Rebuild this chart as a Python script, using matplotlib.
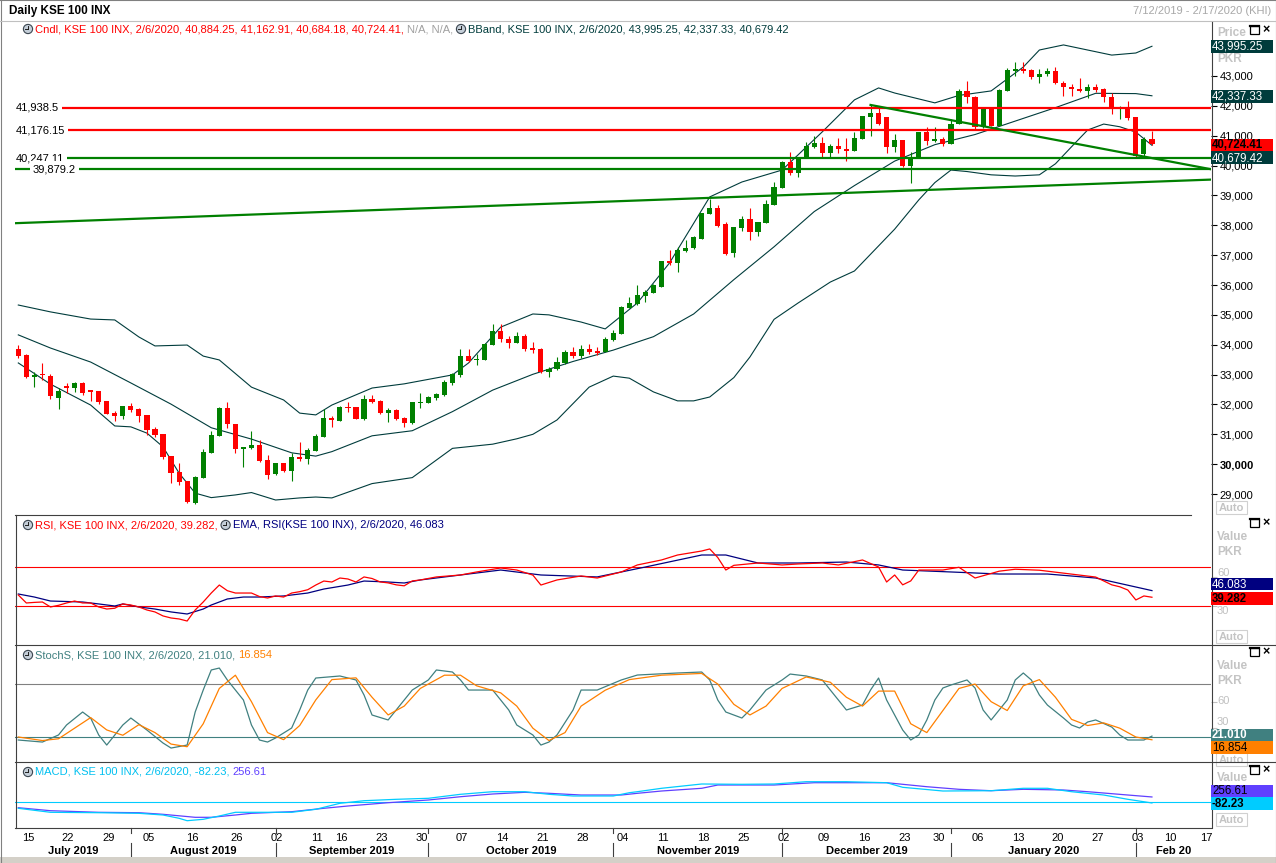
import numpy as np
import matplotlib
matplotlib.use('Agg')
import matplotlib.pyplot as plt
from matplotlib import transforms
from matplotlib.lines import Line2D
from matplotlib.patches import Rectangle, Circle

plt.rcParams['font.family'] = ['Liberation Sans', 'DejaVu Sans']

W, H = 1276, 863
X0, DX = 18.3, 8.04  # pixel centre of the first candle, candle spacing

GREEN = '#008000'
RED = '#FF0000'
BBCOL = '#003C3C'

# ---------------- data ----------------
opens = [33850, 33660, 32910, 33020, 32950, 32230, 32620, 32560, 32730, 32480,
         32450, 32120, 31720, 31610, 31950, 31860, 31650, 31180, 31010, 30270,
         29740, 29440, 28710, 29550, 30380, 30950, 31890, 31330, 30500, 30550,
         30640, 30140, 29660, 30030, 29780, 30250, 30180, 30450, 30920, 31560,
         31460, 31920, 31920, 31520, 32170, 32130, 31720, 31810, 31560, 31370,
         32040, 32060, 32210, 32320, 32710, 32990, 33620, 33490, 33490, 34000,
         34460, 34190, 34070, 34290, 33890, 33870, 33080, 33180, 33380, 33760,
         33630, 33860, 33800, 33750, 34160, 34360, 35240, 35350, 35640, 35740,
         35940, 36800, 36750, 37140, 37230, 37550, 38380, 38580, 38040, 37060,
         37920, 38210, 37790, 38090, 38690, 39260, 40120, 39760, 40260, 40630,
         40750, 40430, 40670, 40560, 40500, 40890, 41640, 41770, 41620, 40630,
         40860, 39990, 40280, 41110, 40830, 40890, 40720, 41390, 42510, 42310,
         41280, 41950, 41330, 42510, 43180, 43230, 43200, 42980, 43060, 43170,
         42780, 42620, 42560, 42510, 42620, 42550, 42310, 41880, 41920, 41620,
         40390, 40884.25]
highs = [33990, 33680, 33080, 33400, 33020, 32540, 32730, 32760, 32750, 32500,
         32460, 32130, 31780, 31960, 32060, 31870, 31660, 31240, 31020, 30280,
         30030, 29450, 29610, 30510, 31110, 31900, 32090, 31340, 30590, 31110,
         30810, 30310, 30040, 30040, 30360, 30750, 30540, 31000, 31840, 31610,
         31950, 32090, 31930, 32310, 32310, 32150, 31890, 31840, 31590, 32080,
         32370, 32270, 32370, 32820, 33040, 33860, 33860, 33690, 34050, 34690,
         34690, 34290, 34440, 34360, 34090, 33880, 33250, 33600, 33820, 33930,
         33990, 34020, 33930, 34270, 34490, 35300, 35590, 36000, 35830, 36020,
         36820, 37170, 37280, 37510, 37640, 38420, 38890, 38680, 38110, 37950,
         38310, 38580, 38120, 38850, 39440, 40140, 40450, 40300, 40800, 40990,
         40950, 40720, 40910, 40910, 41130, 41670, 42030, 41920, 41630, 41060,
         40870, 40460, 41120, 41280, 41280, 40950, 41550, 42550, 42830, 42320,
         41960, 41960, 42550, 43260, 43460, 43480, 43230, 43230, 43260, 43310,
         42840, 42730, 42920, 42730, 42730, 42590, 42440, 42000, 42170, 41630,
         40950, 41162.91]
lows = [33570, 32880, 32590, 32820, 32190, 31860, 32370, 32430, 32320, 32120,
        32000, 31670, 31460, 31520, 31740, 31420, 30980, 30920, 30170, 29380,
        29300, 28690, 28660, 29540, 30370, 30940, 31220, 30380, 29920, 30500,
        30080, 29510, 29650, 29730, 29450, 30120, 30000, 30440, 30910, 31260,
        31450, 31760, 31500, 31480, 32040, 31680, 31410, 31480, 31260, 31340,
        31890, 32050, 32150, 32290, 32650, 32930, 33420, 33310, 33480, 33990,
        34100, 33890, 34060, 33800, 33730, 33070, 32930, 33150, 33370, 33570,
        33570, 33700, 33650, 33740, 34130, 34350, 35220, 35330, 35440, 35730,
        35930, 36670, 36450, 37120, 37220, 37540, 38370, 37950, 37000, 36950,
        37810, 37510, 37640, 38080, 38680, 39250, 39680, 39630, 40250, 40580,
        40300, 40300, 40430, 40160, 40490, 40880, 40990, 41360, 40410, 40460,
        39940, 39430, 40270, 40690, 40800, 40660, 40710, 41380, 42090, 41230,
        41270, 41320, 41320, 42500, 43010, 43090, 42890, 42780, 43010, 42730,
        42340, 42340, 42450, 42250, 42450, 42120, 41730, 41550, 41530, 40240,
        40320, 40684.18]
closes = [33630, 32910, 32980, 32980, 32280, 32450, 32560, 32730, 32370, 32430,
          32090, 31680, 31620, 31950, 31810, 31610, 31140, 30980, 30250, 29710,
          29400, 28730, 29580, 30400, 30980, 31890, 31330, 30500, 30590, 30640,
          30110, 29640, 30030, 29770, 30240, 30180, 30470, 30940, 31560, 31480,
          31920, 31890, 31510, 32190, 32070, 31700, 31810, 31510, 31390, 32070,
          32090, 32260, 32350, 32750, 33010, 33620, 33450, 33530, 34020, 34460,
          34180, 34070, 34290, 33860, 33820, 33080, 33190, 33430, 33770, 33620,
          33860, 33750, 33730, 34190, 34400, 35270, 35390, 35680, 35770, 36000,
          36800, 36730, 37170, 37230, 37600, 38400, 38580, 37990, 37040, 37940,
          38210, 37790, 38110, 38710, 39270, 40120, 39740, 40280, 40670, 40750,
          40430, 40670, 40560, 40500, 40910, 41660, 41770, 41390, 40630, 40860,
          39990, 40300, 41110, 40830, 40890, 40720, 41390, 42510, 42310, 41280,
          41950, 41330, 42530, 43200, 43230, 43180, 42980, 43070, 43170, 42760,
          42620, 42550, 42510, 42620, 42530, 42290, 41880, 41940, 41580, 40320,
          40890, 40724.41]

bb_up_idx = [0, 4, 9, 12, 15, 17, 21, 23, 25, 29, 33, 35, 37, 39, 44, 48, 54, 56, 58, 60,
             64, 66, 70, 73, 77, 81, 86, 90, 95, 100, 104, 107, 109, 114, 117, 121, 125,
             127, 130, 133, 136, 139, 141]
bb_up = [35330, 35100, 34860, 34830, 34260, 33960, 33990, 33620, 33490, 32580, 32150,
         31710, 31650, 31980, 32550, 32690, 32990, 33390, 33990, 34590, 35030, 35000,
         34760, 34530, 35400, 36740, 38950, 39450, 39850, 41130, 42200, 42600, 42430,
         42100, 42350, 42500, 43300, 43870, 44040, 43870, 43700, 43770, 43995.25]
bb_mid_idx = [0, 4, 9, 14, 19, 24, 29, 34, 37, 39, 44, 49, 54, 59, 64, 69, 74, 79, 84,
              89, 94, 99, 104, 109, 114, 119, 124, 129, 134, 139, 141]
bb_mid = [34330, 33890, 33420, 32720, 32010, 31220, 30840, 30380, 30270, 30420, 30950,
          31120, 31760, 32480, 33010, 33440, 33820, 34270, 35030, 36180, 37280, 38460,
          39330, 40150, 40700, 41040, 41490, 41940, 42420, 42410, 42337.33]
bb_lo_idx = [0, 4, 9, 12, 14, 16, 18, 20, 22, 24, 27, 29, 32, 35, 37, 39, 44, 49, 54, 59,
             62, 64, 67, 71, 74, 76, 79, 82, 84, 86, 89, 91, 94, 97, 101, 104, 109, 112,
             114, 116, 118, 121, 124, 127, 129, 131, 133, 135, 137, 139, 141]
bb_lo = [33390, 32680, 31980, 31280, 31250, 31040, 30580, 29700, 29030, 28880, 28970,
         29050, 28800, 28870, 28900, 28870, 29350, 29550, 30530, 30670, 30850, 31000,
         31480, 32580, 32950, 32880, 32420, 32120, 32120, 32250, 32900, 33590, 34850,
         35400, 36100, 36470, 37870, 38850, 39430, 39850, 39800, 39690, 39650, 39690,
         40060, 40630, 41190, 41390, 41300, 41120, 40679.42]

levels_red = [41938.5, 41176.15]
levels_green = [40247.11, 39879.2]
level_labels = ['41,938.5', '41,176.15', '40,247.11', '39,879.2']
rise_idx, rise_val = [-0.41, 148.3], [38070, 39530]
fall_idx, fall_val = [106, 148.3], [42030, 39880]

rsi_idx = [0, 1, 2, 3, 4, 5, 6, 7, 8, 9, 10, 11, 12, 13, 14, 15, 16, 17, 18, 19, 20, 21,
           22, 23, 24, 25, 26, 27, 28, 29, 30, 31, 32, 33, 34, 35, 36, 37, 38, 39, 40, 41,
           42, 43, 44, 45, 46, 47, 48, 49, 50, 52, 55, 57, 60, 62, 64, 65, 67, 70, 72, 75,
           77, 80, 82, 85, 86, 87, 88, 89, 92, 95, 97, 100, 102, 105, 107, 108, 109, 110,
           111, 112, 115, 117, 119, 122, 124, 127, 129, 132, 134, 136, 137, 138, 139, 140,
           141]
rsi = [41.6, 33.4, 34.0, 34.4, 29.3, 31.0, 33.4, 35.4, 33.4, 33.4, 29.3, 27.2, 28.0, 32.4,
       31.3, 29.3, 26.2, 24.2, 20.1, 18.0, 17.0, 14.9, 26.2, 34.4, 43.6, 51.8, 46.0, 43.6,
       43.6, 43.6, 40.0, 38.5, 40.6, 39.5, 43.6, 45.0, 47.0, 51.8, 55.9, 54.9, 59.0, 58.0,
       54.9, 60.1, 58.5, 55.0, 54.0, 52.0, 51.0, 56.0, 57.0, 60.1, 62.1, 65.2, 69.3, 67.2,
       62.0, 51.8, 57.0, 61.1, 59.0, 65.2, 72.4, 77.5, 82.6, 86.7, 88.8, 80.0, 67.2, 72.0,
       74.4, 72.4, 73.4, 74.4, 72.4, 77.5, 70.3, 54.9, 62.1, 52.0, 56.0, 67.2, 67.2, 70.0,
       59.0, 66.0, 68.0, 67.0, 65.0, 62.0, 60.0, 52.0, 50.0, 46.7, 36.5, 40.6, 39.282]
ema_idx = [0, 2, 4, 8, 10, 12, 13, 15, 17, 19, 21, 23, 24, 26, 28, 30, 33, 36, 38, 41, 43,
           46, 48, 50, 60, 65, 72, 78, 85, 88, 92, 97, 103, 107, 110, 116, 122, 128, 134,
           141]
ema = [42.6, 39.5, 35.4, 34.4, 32.4, 30.3, 32.4, 29.3, 27.2, 24.2, 22.1, 27.2, 31.3, 37.5,
       39.5, 39.5, 40.6, 43.6, 47.7, 51.8, 55.9, 54.9, 53.9, 57.0, 67.2, 62.1, 60.1, 70.3,
       82.6, 82.6, 74.4, 74.4, 75.4, 72.4, 67.2, 65.2, 63.1, 63.1, 59.0, 46.083]

stk_idx = [0, 3, 5, 6, 8, 9, 10, 11, 13, 14, 16, 18, 19, 21, 22, 23, 24, 25, 26, 28, 29,
           30, 31, 32, 34, 35, 36, 37, 40, 42, 43, 44, 46, 47, 49, 51, 52, 54, 55, 56, 59,
           60, 61, 62, 64, 65, 66, 67, 69, 70, 72, 75, 77, 82, 85, 86, 87, 88, 90, 91, 92,
           93, 95, 96, 98, 100, 101, 102, 103, 105, 106, 107, 108, 110, 111, 112, 113, 114,
           115, 116, 118, 119, 120, 121, 123, 124, 125, 126, 127, 128, 130, 131, 132, 133,
           134, 136, 137, 138, 140, 141]
stk = [16.6, 14.3, 22.3, 33.6, 48.3, 41.5, 22.3, 10.9, 33.6, 41.5, 27.9, 13.2, 7.5, 10.9,
       48.3, 73.2, 95.9, 98.1, 84.6, 61.9, 33.6, 16.6, 14.3, 18.9, 30.2, 50.6, 73.2, 86.8,
       89.1, 84.6, 67.6, 44.9, 39.3, 50.6, 73.2, 84.6, 95.9, 93.6, 84.6, 73.2, 73.2, 61.9,
       50.6, 33.6, 22.3, 10.9, 14.3, 22.3, 50.6, 73.2, 73.2, 84.6, 90.2, 92.5, 93.6, 84.6,
       61.9, 48.3, 41.5, 50.6, 61.9, 73.2, 84.6, 91.3, 89.1, 84.6, 73.2, 61.9, 50.6, 56.2,
       73.2, 86.8, 61.9, 27.9, 16.6, 22.3, 39.3, 61.9, 75.5, 78.9, 84.6, 75.5, 50.6, 39.3,
       61.9, 84.6, 92.5, 84.6, 67.6, 56.2, 41.5, 33.6, 30.2, 37.0, 39.3, 31.3, 22.3, 16.6,
       16.6, 21.01]
std_idx = [0, 3, 5, 7, 9, 11, 13, 15, 17, 19, 21, 23, 25, 27, 29, 31, 33, 35, 37, 39, 42,
           44, 46, 48, 50, 53, 55, 57, 60, 62, 64, 66, 68, 70, 73, 76, 80, 85, 87, 89, 91,
           93, 95, 98, 101, 103, 105, 107, 109, 111, 113, 115, 117, 119, 121, 123, 125, 127,
           129, 131, 133, 135, 137, 139, 141]
std = [20, 16, 18, 30, 42, 28, 22, 34, 25, 12, 9, 35, 75, 90, 60, 25, 17, 33, 62, 85, 87,
       65, 45, 55, 75, 90, 90, 78, 70, 55, 30, 16, 25, 55, 73, 85, 90, 92, 80, 57, 45, 55,
       75, 88, 82, 65, 55, 72, 72, 35, 25, 50, 75, 80, 60, 50, 78, 85, 65, 40, 33, 36, 30,
       20, 16.854]

macd_idx = [0, 4, 10, 15, 18, 20, 21, 23, 25, 27, 29, 34, 37, 40, 43, 47, 51, 55, 59, 63,
            66, 69, 74, 76, 77, 80, 85, 90, 94, 98, 103, 108, 110, 115, 121, 125, 128, 131,
            135, 138, 141]
macd = [-384, -610, -633, -667, -763, -949, -1085, -1006, -819, -610, -610, -610, -441,
        -102, 45, 124, 181, 407, 554, 554, 407, 311, 311, 497, 554, 746, 989, 972, 989,
        1119, 1119, 1062, 802, 593, 610, 746, 746, 554, 367, 124, -82.23]
sig_idx = [0, 4, 10, 15, 18, 22, 24, 27, 29, 34, 38, 41, 46, 51, 55, 59, 63, 66, 70, 75,
           77, 80, 85, 87, 94, 99, 108, 113, 117, 121, 125, 130, 133, 138, 141]
sig = [-350, -520, -610, -633, -723, -893, -893, -763, -667, -576, -384, -254, -68, 85,
       271, 424, 520, 463, 367, 367, 463, 593, 746, 932, 932, 1062, 1062, 836, 689, 610,
       689, 650, 554, 367, 256.61]

day_labels = ['15', '22', '29', '05', '16', '26', '02', '11', '16', '23', '30', '07', '14',
              '21', '28', '04', '11', '18', '25', '02', '09', '16', '23', '30', '06', '13',
              '20', '27', '03', '10', '17']
day_pos = [1, 6, 11, 16, 21.5, 27, 32, 37, 40, 45, 50, 55, 60, 65, 70, 75, 80, 85, 90, 95,
           100, 105, 110, 114.3, 119.2, 124.2, 129.1, 134.1, 139.1, 143.1, 147.6]
month_labels = ['July 2019', 'August 2019', 'September 2019', 'October 2019',
                'November 2019', 'December 2019', 'January 2020', 'Feb 20']
month_start = [14, 32, 51, 74, 95, 116, 139]

# ---------------- figure ----------------
fig = plt.figure(figsize=(W / 100, H / 100), dpi=100)
fig.patch.set_facecolor('white')
# pixel coordinates, origin top-left
P = transforms.Affine2D().scale(1, -1).translate(0, H).scale(1 / 100) + fig.dpi_scale_trans


def panel(x0, y0, x1, y1, ylim):
    a = fig.add_axes([x0 / W, 1 - y1 / H, (x1 - x0) / W, (y1 - y0) / H])
    a.set_xlim((x0 - X0) / DX, (x1 - X0) / DX)
    a.set_ylim(*ylim)
    for s in a.spines.values():
        s.set_visible(False)
    a.set_xticks([])
    a.set_yticks([])
    a.patch.set_alpha(0)
    return a


def fline(x0, y0, x1, y1, color='#404040', lw=0.8, z=12):
    fig.add_artist(Line2D([x0, x1], [y0, y1], transform=P, color=color, lw=lw, zorder=z))


def ftext(x, y, s, **kw):
    kw.setdefault('fontsize', 8)
    kw.setdefault('va', 'center')
    kw.setdefault('zorder', 11)
    return fig.text(x, y, s, transform=P, **kw)


ax = panel(15, 22, 1211, 515, (28298, 44808))
ax_rsi = panel(15, 516, 1211, 645, (-9.7, 122.6))
ax_st = panel(15, 645, 1211, 762, (-8.3, 124.2))
ax_macd = panel(15, 762, 1211, 828, (-1497, 2232))

# ---- candles ----
idx = np.arange(len(closes))
o, c, h, l = map(np.array, (opens, closes, highs, lows))
col = np.where(c >= o, GREEN, RED)
ax.vlines(idx, l, h, colors=col, lw=0.8, zorder=3)
ax.bar(idx, np.maximum(np.abs(c - o), 40), bottom=np.minimum(o, c), width=0.64,
       color=col, lw=0, zorder=4)

# ---- bollinger ----
for xi, yv in ((bb_up_idx, bb_up), (bb_mid_idx, bb_mid), (bb_lo_idx, bb_lo)):
    ax.plot(xi, yv, color=BBCOL, lw=0.8, zorder=2)

# ---- levels and trend lines ----
for v in levels_red:
    ax.axhline(v, color=RED, lw=1.6, zorder=5)
for v in levels_green:
    ax.axhline(v, color=GREEN, lw=1.6, zorder=5)
ax.plot(rise_idx, rise_val, color=GREEN, lw=1.6, zorder=5)
ax.plot(fall_idx, fall_val, color=GREEN, lw=1.6, zorder=5)
lt = transforms.blended_transform_factory(P, ax.transData)
for v, s, xp in zip(levels_red + levels_green, level_labels, [16, 16, 16, 33]):
    ax.text(xp, v, s, transform=lt, fontsize=8, va='center', ha='left', zorder=6,
            bbox=dict(facecolor='white', edgecolor='none', pad=2.2))

# main price axis
ticks = list(range(29000, 44000, 1000))
ax.yaxis.tick_right()
ax.set_yticks(ticks)
ax.set_yticklabels([f'{t:,}' for t in ticks])
ax.tick_params(axis='y', length=4, width=0.8, pad=2, labelsize=8, colors='black')
ax.get_yticklabels()[1].set_fontweight('bold')

# ---- RSI ----
ax_rsi.axhline(70, color=RED, lw=0.8)
ax_rsi.axhline(30, color=RED, lw=0.8)
ax_rsi.plot(ema_idx, ema, color='#000080', lw=0.9)
ax_rsi.plot(rsi_idx, rsi, color=RED, lw=0.9)
# ---- Stoch ----
ax_st.axhline(80, color='#808080', lw=0.8)
ax_st.axhline(20, color='#408080', lw=0.8)
ax_st.plot(stk_idx, stk, color='#408080', lw=0.9)
ax_st.plot(std_idx, std, color='#FF8000', lw=0.9)
# ---- MACD ----
ax_macd.axhline(0, color='#00CCFF', lw=0.8)
ax_macd.plot(sig_idx, sig, color='#6040FF', lw=0.9)
ax_macd.plot(macd_idx, macd, color='#00CCFF', lw=0.9)

# light grey scale marks on the indicator panels (partly under the value boxes)
for a in (ax_rsi, ax_st):
    a.yaxis.tick_right()
    a.set_yticks([30, 60])
    a.set_yticklabels([])
    a.tick_params(axis='y', length=4, width=0.8, colors='#C0C0C0')
for y, s in [(573, '60'), (611, '30'), (701, '60'), (722, '30')]:
    ftext(1217, y, s, color='#C0C0C0', zorder=10)

# ---- x axis labels ----
xt = transforms.blended_transform_factory(ax_macd.transData, P)
for s, p in zip(day_labels, day_pos):
    fig.text(p + 0.2, 838, s, transform=xt, fontsize=8, ha='center', va='center')
edges = [(15 - X0) / DX] + month_start + [(1211 - X0) / DX]
for i, s in enumerate(month_labels):
    fig.text((edges[i] + edges[i + 1]) / 2, 851, s, transform=xt, fontsize=8,
             fontweight='bold', ha='center', va='center')
for m in month_start:
    fig.add_artist(Line2D([m, m], [843, 858], transform=xt, color='#404040', lw=0.8))
    fig.add_artist(Line2D([m, m], [828, 833], transform=xt, color='#404040', lw=0.8))

# ---- headers ----
renderer = fig.canvas.get_renderer()


def clock(x, y):
    fig.add_artist(Circle((x, y), 4.6, transform=P, facecolor='#C4CED8',
                          edgecolor='#3C4650', lw=0.8, zorder=11))
    fline(x, y, x, y - 3, color='#202020', lw=0.7, z=12)
    fline(x, y, x - 2.6, y, color='#202020', lw=0.7, z=12)


def header(x, y, parts):
    for s, color in parts:
        if s is None:
            clock(x + 5, y)
            x += 12
            continue
        t = ftext(x, y, s, color=color)
        x += t.get_window_extent(renderer).width + 3


header(23, 29, [(None, None),
                ('Cndl, KSE 100 INX, 2/6/2020, 40,884.25, 41,162.91, 40,684.18, 40,724.41,', RED),
                ('N/A, N/A,', '#A0A0A0'), (None, None),
                ('BBand, KSE 100 INX, 2/6/2020, 43,995.25, 42,337.33, 40,679.42', BBCOL)])
header(23, 525, [(None, None), ('RSI, KSE 100 INX, 2/6/2020, 39.282,', RED), (None, None),
                 ('EMA, RSI(KSE 100 INX), 2/6/2020, 46.083', '#000080')])
header(23, 655, [(None, None), ('StochS, KSE 100 INX, 2/6/2020, 21.010,', '#408080'),
                 ('16.854', '#FF8000')])
header(23, 772, [(None, None), ('MACD, KSE 100 INX, 2/6/2020, -82.23,', '#00C0F0'),
                 ('256.61', '#6040FF')])

ftext(9, 11, 'Daily KSE 100 INX', fontweight='bold', fontsize=8.5)
ftext(1271, 11, '7/12/2019 - 2/17/2020 (KHI)', color='#A8A8A8', ha='right')

# ---- right axis decorations ----
GRAYTXT = '#C4C4C4'
for y, s in [(33, 'Price'), (59, 'PKR'), (537, 'Value'), (552, 'PKR'), (666, 'Value'),
             (681, 'PKR'), (778, 'Value')]:
    ftext(1217, y, s, color=GRAYTXT, fontweight='bold', fontsize=8.5, zorder=10)

for y in (508, 637, 760, 820):
    fig.add_artist(Rectangle((1216, y - 6.5), 31, 13, transform=P, facecolor='white',
                             edgecolor='#D0D0D0', lw=0.8, zorder=10))
    ftext(1231.5, y, 'Auto', color=GRAYTXT, fontweight='bold', ha='center', zorder=10)


def value_box(y, s, bg, fg, bold=False):
    fig.add_artist(Rectangle((1211, y - 6.3), 62, 12.6, transform=P, facecolor=bg,
                             edgecolor='none', zorder=13))
    ftext(1212, y + 0.5, s, color=fg, fontsize=8.3, fontweight='bold' if bold else 'normal',
          zorder=14)


value_box(46.3, '43,995.25', BBCOL, 'white')
value_box(96.3, '42,337.33', BBCOL, 'white')
value_box(145, '40,724.41', RED, 'black', True)
value_box(157.6, '40,679.42', BBCOL, 'white')
value_box(584, '46.083', '#000080', 'white')
value_box(598.7, '39.282', RED, 'black', True)
value_box(735, '21.010', '#408080', 'white', True)
value_box(747.5, '16.854', '#FF8000', 'black')
value_box(791, '256.61', '#6040FF', 'black')
value_box(803.3, '-82.23', '#00CCFF', 'black', True)

for y in (30, 523, 652, 770):
    fig.add_artist(Rectangle((1250, y - 4), 9, 8, transform=P, facecolor='none',
                             edgecolor='black', lw=0.9, zorder=12))
    fline(1250, y - 3.5, 1259, y - 3.5, color='black', lw=1.6)
    ftext(1266, y, '×', fontweight='bold', fontsize=9, ha='center', zorder=12)

# ---- frame ----
fline(0.5, 0, 0.5, 863, color='#808080')
fline(1275.5, 0, 1275.5, 863, color='#808080')
fline(0, 0.5, 1276, 0.5, color='#808080')
fline(0, 21.5, 1276, 21.5, color='#C0C0C0')
fline(1211.5, 22, 1211.5, 828, color='#404040')
fline(15.5, 515.5, 15.5, 828.5, color='#404040')
fline(15, 515.5, 1191, 515.5, color='#404040')
fline(15, 645.5, 1276, 645.5, color='#404040')
fline(15, 762.5, 1276, 762.5, color='#404040')
fline(15, 828.5, 1211, 828.5, color='#404040')
fig.add_artist(Rectangle((0, 857), 1276, 6, transform=P, facecolor='#D4D0C8',
                         edgecolor='none', zorder=9))

fig.savefig('out.png', dpi=100)
